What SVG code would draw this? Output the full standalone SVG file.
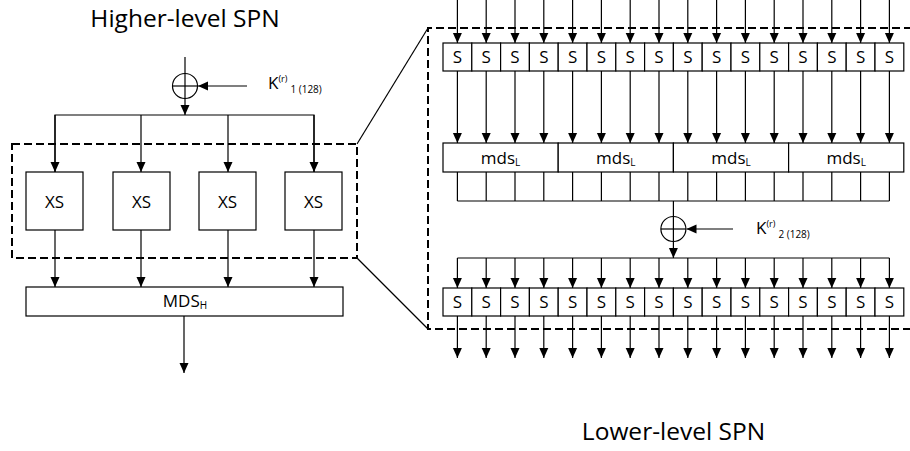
<svg xmlns="http://www.w3.org/2000/svg" width="910" height="451" viewBox="0 0 910 451">
<style>
.ln{stroke:#000;stroke-width:1.2;fill:none}
.ar{stroke:#000;stroke-width:1.2;fill:none;marker-end:url(#ah)}
.bx{stroke:#000;stroke-width:1.2;fill:#fff}
.dash{stroke:#000;stroke-width:2;fill:none;stroke-dasharray:8,4}
.t{font-family:"Open Sans","Noto Sans",sans-serif;fill:#000}
.c{text-anchor:middle}
</style>
<defs>
<marker id="ah" markerUnits="userSpaceOnUse" markerWidth="10" markerHeight="10" refX="10" refY="4.5" orient="auto" viewBox="0 0 10 9">
<path d="M0,0 L10,4.5 L0,9 z" fill="#000"/>
</marker>
</defs>
<rect width="910" height="451" fill="#fff"/>

<text class="t c" x="185" y="26.5" font-size="24.5">Higher-level SPN</text>
<text class="t c" x="673.5" y="440" font-size="24.5">Lower-level SPN</text>

<g id="connectors">
<line class="ar" x1="185" y1="57" x2="185" y2="115"/>
<line class="ar" x1="247" y1="86" x2="198" y2="86"/>
<polyline class="ln" points="55,172 55,115 314,115 314,172"/>
<line class="ar" x1="55" y1="115" x2="55" y2="172"/>
<line class="ar" x1="141" y1="115" x2="141" y2="172"/>
<line class="ar" x1="228" y1="115" x2="228" y2="172"/>
<line class="ar" x1="314" y1="115" x2="314" y2="172"/>
<line class="ar" x1="55" y1="230" x2="55" y2="287"/>
<line class="ar" x1="141" y1="230" x2="141" y2="287"/>
<line class="ar" x1="228" y1="230" x2="228" y2="287"/>
<line class="ar" x1="314" y1="230" x2="314" y2="287"/>
<line class="ar" x1="184" y1="316" x2="184" y2="373"/>
<line class="ln" x1="357" y1="144" x2="428" y2="28"/>
<line class="ln" x1="357" y1="258" x2="428" y2="329"/>
<g id="top-in">
<line class="ar" x1="457.4" y1="0" x2="457.4" y2="43"/>
<line class="ar" x1="486.2" y1="0" x2="486.2" y2="43"/>
<line class="ar" x1="515" y1="0" x2="515" y2="43"/>
<line class="ar" x1="543.8" y1="0" x2="543.8" y2="43"/>
<line class="ar" x1="572.6" y1="0" x2="572.6" y2="43"/>
<line class="ar" x1="601.4" y1="0" x2="601.4" y2="43"/>
<line class="ar" x1="630.2" y1="0" x2="630.2" y2="43"/>
<line class="ar" x1="659" y1="0" x2="659" y2="43"/>
<line class="ar" x1="687.8" y1="0" x2="687.8" y2="43"/>
<line class="ar" x1="716.6" y1="0" x2="716.6" y2="43"/>
<line class="ar" x1="745.4" y1="0" x2="745.4" y2="43"/>
<line class="ar" x1="774.2" y1="0" x2="774.2" y2="43"/>
<line class="ar" x1="803" y1="0" x2="803" y2="43"/>
<line class="ar" x1="831.8" y1="0" x2="831.8" y2="43"/>
<line class="ar" x1="860.6" y1="0" x2="860.6" y2="43"/>
<line class="ar" x1="889.4" y1="0" x2="889.4" y2="43"/>
</g>
<g id="s-to-mds">
<line class="ar" x1="457.4" y1="71" x2="457.4" y2="143"/>
<line class="ar" x1="486.2" y1="71" x2="486.2" y2="143"/>
<line class="ar" x1="515" y1="71" x2="515" y2="143"/>
<line class="ar" x1="543.8" y1="71" x2="543.8" y2="143"/>
<line class="ar" x1="572.6" y1="71" x2="572.6" y2="143"/>
<line class="ar" x1="601.4" y1="71" x2="601.4" y2="143"/>
<line class="ar" x1="630.2" y1="71" x2="630.2" y2="143"/>
<line class="ar" x1="659" y1="71" x2="659" y2="143"/>
<line class="ar" x1="687.8" y1="71" x2="687.8" y2="143"/>
<line class="ar" x1="716.6" y1="71" x2="716.6" y2="143"/>
<line class="ar" x1="745.4" y1="71" x2="745.4" y2="143"/>
<line class="ar" x1="774.2" y1="71" x2="774.2" y2="143"/>
<line class="ar" x1="803" y1="71" x2="803" y2="143"/>
<line class="ar" x1="831.8" y1="71" x2="831.8" y2="143"/>
<line class="ar" x1="860.6" y1="71" x2="860.6" y2="143"/>
<line class="ar" x1="889.4" y1="71" x2="889.4" y2="143"/>
</g>
<g id="mds-out">
<path class="ln" d="M457.4,172V201M486.2,172V201M515,172V201M543.8,172V201M572.6,172V201M601.4,172V201M630.2,172V201M659,172V201M687.8,172V201M716.6,172V201M745.4,172V201M774.2,172V201M803,172V201M831.8,172V201M860.6,172V201M889.4,172V201M457.4,201H889.4"/>
</g>
<line class="ar" x1="673.4" y1="201" x2="673.4" y2="258"/>
<line class="ar" x1="733" y1="229" x2="686.5" y2="229"/>
<line class="ln" x1="457.4" y1="258" x2="889.4" y2="258"/>
<g id="fan-out">
<line class="ar" x1="457.4" y1="258" x2="457.4" y2="288"/>
<line class="ar" x1="486.2" y1="258" x2="486.2" y2="288"/>
<line class="ar" x1="515" y1="258" x2="515" y2="288"/>
<line class="ar" x1="543.8" y1="258" x2="543.8" y2="288"/>
<line class="ar" x1="572.6" y1="258" x2="572.6" y2="288"/>
<line class="ar" x1="601.4" y1="258" x2="601.4" y2="288"/>
<line class="ar" x1="630.2" y1="258" x2="630.2" y2="288"/>
<line class="ar" x1="659" y1="258" x2="659" y2="288"/>
<line class="ar" x1="687.8" y1="258" x2="687.8" y2="288"/>
<line class="ar" x1="716.6" y1="258" x2="716.6" y2="288"/>
<line class="ar" x1="745.4" y1="258" x2="745.4" y2="288"/>
<line class="ar" x1="774.2" y1="258" x2="774.2" y2="288"/>
<line class="ar" x1="803" y1="258" x2="803" y2="288"/>
<line class="ar" x1="831.8" y1="258" x2="831.8" y2="288"/>
<line class="ar" x1="860.6" y1="258" x2="860.6" y2="288"/>
<line class="ar" x1="889.4" y1="258" x2="889.4" y2="288"/>
</g>
<g id="bottom-out">
<line class="ar" x1="457.4" y1="316" x2="457.4" y2="358"/>
<line class="ar" x1="486.2" y1="316" x2="486.2" y2="358"/>
<line class="ar" x1="515" y1="316" x2="515" y2="358"/>
<line class="ar" x1="543.8" y1="316" x2="543.8" y2="358"/>
<line class="ar" x1="572.6" y1="316" x2="572.6" y2="358"/>
<line class="ar" x1="601.4" y1="316" x2="601.4" y2="358"/>
<line class="ar" x1="630.2" y1="316" x2="630.2" y2="358"/>
<line class="ar" x1="659" y1="316" x2="659" y2="358"/>
<line class="ar" x1="687.8" y1="316" x2="687.8" y2="358"/>
<line class="ar" x1="716.6" y1="316" x2="716.6" y2="358"/>
<line class="ar" x1="745.4" y1="316" x2="745.4" y2="358"/>
<line class="ar" x1="774.2" y1="316" x2="774.2" y2="358"/>
<line class="ar" x1="803" y1="316" x2="803" y2="358"/>
<line class="ar" x1="831.8" y1="316" x2="831.8" y2="358"/>
<line class="ar" x1="860.6" y1="316" x2="860.6" y2="358"/>
<line class="ar" x1="889.4" y1="316" x2="889.4" y2="358"/>
</g>
</g>

<g id="xor1">
<circle class="ln" cx="185" cy="86" r="12.5"/>
<line class="ln" x1="172.5" y1="86" x2="197.5" y2="86"/>
</g>
<g id="k1">
<text class="t" x="268" y="89" font-size="17">K<tspan font-size="9" dy="-7">(r)</tspan><tspan font-size="10" dy="11" dx="3">1 (128)</tspan></text>
</g>

<g id="hl-box"><rect class="dash" x="12" y="144" width="345" height="114"/></g>
<g id="xs1"><rect class="bx" x="26" y="172" width="57" height="58"/><text class="t c" x="54.5" y="208" font-size="17">XS</text></g>
<g id="xs2"><rect class="bx" x="113" y="172" width="57" height="58"/><text class="t c" x="141.5" y="208" font-size="17">XS</text></g>
<g id="xs3"><rect class="bx" x="199" y="172" width="57" height="58"/><text class="t c" x="227.5" y="208" font-size="17">XS</text></g>
<g id="xs4"><rect class="bx" x="285" y="172" width="57" height="58"/><text class="t c" x="313.5" y="208" font-size="17">XS</text></g>
<g id="mdsh"><rect class="bx" x="26" y="287" width="317" height="29"/><text class="t c" x="185" y="307" font-size="17">MDS<tspan font-size="10" dy="2">H</tspan></text></g>

<g id="ll-box"><path class="dash" d="M912,28 H428 V329 H912"/></g>

<g id="srow1">
<rect class="bx" x="443" y="43" width="28.8" height="28"/>
<rect class="bx" x="471.8" y="43" width="28.8" height="28"/>
<rect class="bx" x="500.6" y="43" width="28.8" height="28"/>
<rect class="bx" x="529.4" y="43" width="28.8" height="28"/>
<rect class="bx" x="558.2" y="43" width="28.8" height="28"/>
<rect class="bx" x="587" y="43" width="28.8" height="28"/>
<rect class="bx" x="615.8" y="43" width="28.8" height="28"/>
<rect class="bx" x="644.6" y="43" width="28.8" height="28"/>
<rect class="bx" x="673.4" y="43" width="28.8" height="28"/>
<rect class="bx" x="702.2" y="43" width="28.8" height="28"/>
<rect class="bx" x="731" y="43" width="28.8" height="28"/>
<rect class="bx" x="759.8" y="43" width="28.8" height="28"/>
<rect class="bx" x="788.6" y="43" width="28.8" height="28"/>
<rect class="bx" x="817.4" y="43" width="28.8" height="28"/>
<rect class="bx" x="846.2" y="43" width="28.8" height="28"/>
<rect class="bx" x="875" y="43" width="28.8" height="28"/>
<g class="t c" font-size="17">
<text x="457.4" y="63">S</text><text x="486.2" y="63">S</text><text x="515" y="63">S</text><text x="543.8" y="63">S</text>
<text x="572.6" y="63">S</text><text x="601.4" y="63">S</text><text x="630.2" y="63">S</text><text x="659" y="63">S</text>
<text x="687.8" y="63">S</text><text x="716.6" y="63">S</text><text x="745.4" y="63">S</text><text x="774.2" y="63">S</text>
<text x="803" y="63">S</text><text x="831.8" y="63">S</text><text x="860.6" y="63">S</text><text x="889.4" y="63">S</text>
</g>
</g>

<g id="mdsl">
<rect class="bx" x="443" y="143" width="115.2" height="29"/>
<rect class="bx" x="558.2" y="143" width="115.2" height="29"/>
<rect class="bx" x="673.4" y="143" width="115.2" height="29"/>
<rect class="bx" x="788.6" y="143" width="115.2" height="29"/>
<g class="t c" font-size="17">
<text x="500.6" y="164">mds<tspan font-size="10" dy="2">L</tspan></text>
<text x="615.8" y="164">mds<tspan font-size="10" dy="2">L</tspan></text>
<text x="731" y="164">mds<tspan font-size="10" dy="2">L</tspan></text>
<text x="846.2" y="164">mds<tspan font-size="10" dy="2">L</tspan></text>
</g>
</g>

<g id="xor2">
<circle class="ln" cx="673.4" cy="229" r="12.5"/>
<line class="ln" x1="660.9" y1="229" x2="685.9" y2="229"/>
</g>
<g id="k2">
<text class="t" x="756" y="234" font-size="17">K<tspan font-size="9" dy="-7">(r)</tspan><tspan font-size="10" dy="11" dx="3">2 (128)</tspan></text>
</g>

<g id="srow2">
<rect class="bx" x="443" y="288" width="28.8" height="28"/>
<rect class="bx" x="471.8" y="288" width="28.8" height="28"/>
<rect class="bx" x="500.6" y="288" width="28.8" height="28"/>
<rect class="bx" x="529.4" y="288" width="28.8" height="28"/>
<rect class="bx" x="558.2" y="288" width="28.8" height="28"/>
<rect class="bx" x="587" y="288" width="28.8" height="28"/>
<rect class="bx" x="615.8" y="288" width="28.8" height="28"/>
<rect class="bx" x="644.6" y="288" width="28.8" height="28"/>
<rect class="bx" x="673.4" y="288" width="28.8" height="28"/>
<rect class="bx" x="702.2" y="288" width="28.8" height="28"/>
<rect class="bx" x="731" y="288" width="28.8" height="28"/>
<rect class="bx" x="759.8" y="288" width="28.8" height="28"/>
<rect class="bx" x="788.6" y="288" width="28.8" height="28"/>
<rect class="bx" x="817.4" y="288" width="28.8" height="28"/>
<rect class="bx" x="846.2" y="288" width="28.8" height="28"/>
<rect class="bx" x="875" y="288" width="28.8" height="28"/>
<g class="t c" font-size="17">
<text x="457.4" y="308">S</text><text x="486.2" y="308">S</text><text x="515" y="308">S</text><text x="543.8" y="308">S</text>
<text x="572.6" y="308">S</text><text x="601.4" y="308">S</text><text x="630.2" y="308">S</text><text x="659" y="308">S</text>
<text x="687.8" y="308">S</text><text x="716.6" y="308">S</text><text x="745.4" y="308">S</text><text x="774.2" y="308">S</text>
<text x="803" y="308">S</text><text x="831.8" y="308">S</text><text x="860.6" y="308">S</text><text x="889.4" y="308">S</text>
</g>
</g>
</svg>
